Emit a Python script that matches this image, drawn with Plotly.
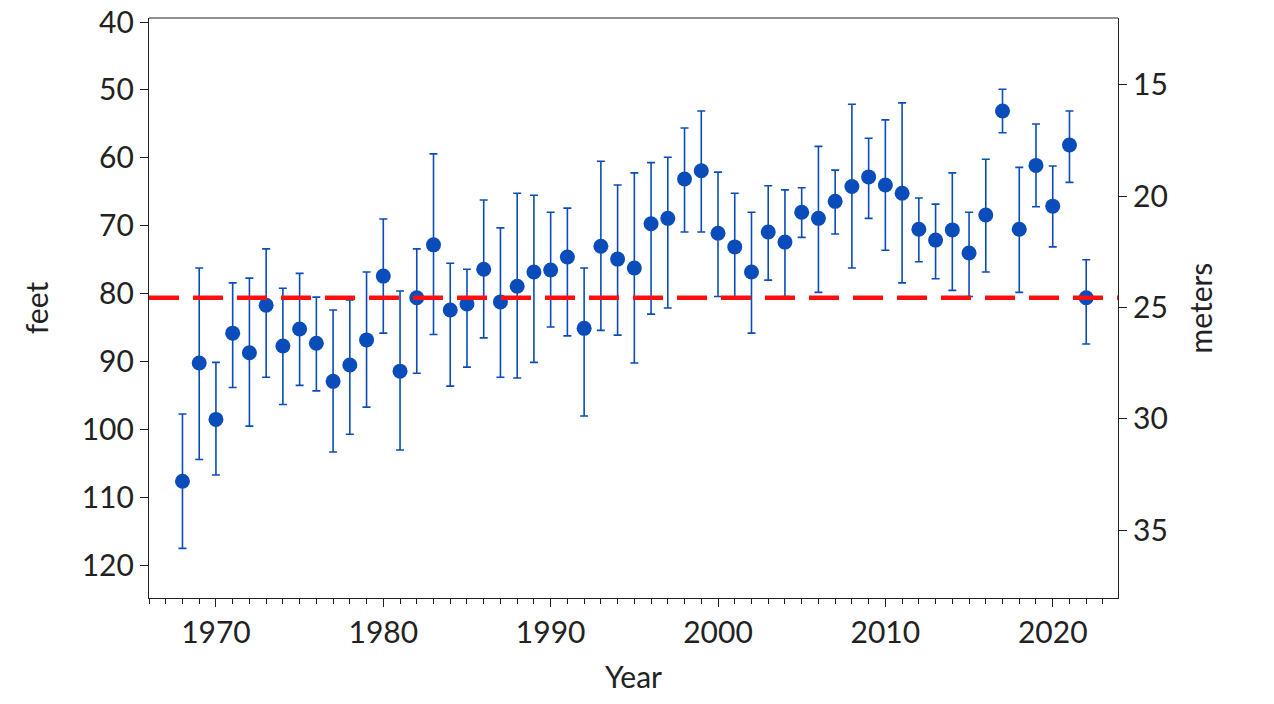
import plotly.graph_objects as go

years = list(range(1968, 2023))
depth_ft = [107.6, 90.2, 98.5, 85.8, 88.7, 81.7, 87.7, 85.2, 87.3, 92.9,
            90.5, 86.8, 77.4, 91.4, 80.6, 72.8, 82.4, 81.5, 76.4, 81.2,
            78.9, 76.8, 76.5, 74.6, 85.1, 73.0, 74.9, 76.2, 69.7, 68.9,
            63.1, 61.9, 71.1, 73.1, 76.8, 70.9, 72.4, 68.0, 68.9, 66.4,
            64.2, 62.8, 64.0, 65.2, 70.5, 72.1, 70.6, 74.0, 68.4, 53.1,
            70.5, 61.1, 67.1, 58.1, 80.6]
upper_ft = [97.7, 76.2, 90.1, 78.4, 77.7, 73.4, 79.2, 77.0, 80.5, 82.4,
            80.9, 76.8, 69.0, 79.6, 73.4, 59.4, 75.5, 76.4, 66.2, 70.3,
            65.2, 65.5, 68.0, 67.4, 76.2, 60.5, 64.0, 62.2, 60.7, 59.9,
            55.6, 53.1, 62.1, 65.2, 68.0, 64.1, 64.7, 64.4, 58.3, 61.8,
            52.1, 57.1, 54.4, 51.9, 65.9, 66.8, 62.2, 68.0, 60.2, 49.9,
            61.4, 55.0, 61.2, 53.1, 75.0]
lower_ft = [117.5, 104.4, 106.7, 93.8, 99.5, 92.3, 96.3, 93.5, 94.3, 103.3,
            100.7, 96.7, 85.8, 103.0, 91.7, 86.0, 93.6, 90.8, 86.5, 92.3,
            92.4, 90.1, 84.9, 86.2, 98.0, 85.4, 86.1, 90.2, 83.0, 82.1,
            70.9, 70.9, 80.4, 80.5, 85.8, 78.0, 80.4, 71.7, 79.8, 71.2,
            76.2, 68.9, 73.6, 78.4, 75.3, 77.8, 79.5, 80.4, 76.8, 56.3,
            79.8, 67.2, 73.1, 63.6, 87.4]
mean_ft = 80.6

blue = "#0A4DBA"
font = dict(family="Lato, Open Sans, sans-serif", size=30, color="#222")

err_plus = [lo - d for lo, d in zip(lower_ft, depth_ft)]
err_minus = [d - up for up, d in zip(upper_ft, depth_ft)]

fig = go.Figure()
fig.add_trace(go.Scatter(
    x=years, y=depth_ft, mode="markers",
    marker=dict(color=blue, size=15),
    error_y=dict(type="data", array=err_plus, arrayminus=err_minus,
                 color=blue, thickness=1.6, width=4),
    showlegend=False))
fig.add_trace(go.Scatter(
    x=[1966, 2023.9], y=[mean_ft, mean_ft], mode="lines",
    line=dict(color="#FF1010", width=4.5, dash="30px,14px"),
    showlegend=False))
fig.add_trace(go.Scatter(x=[2000], y=[20], yaxis="y2", mode="markers",
                         marker=dict(opacity=0), showlegend=False, hoverinfo="skip"))

rng = [124.8, 39.4]
axis_common = dict(showgrid=False, zeroline=False, showline=True, linecolor="#222",
                   linewidth=1.2, ticks="outside", ticklen=8, tickcolor="#222",
                   tickfont=font, automargin=False, ticklabeloverflow="allow")
fig.update_layout(
    width=1274, height=704, plot_bgcolor="white", paper_bgcolor="white",
    margin=dict(l=141, r=164, t=10, b=114), font=font,
    xaxis=dict(range=[1966, 2023.9], dtick=10, tick0=1970,
               minor=dict(dtick=1, ticks="outside", ticklen=5, tickcolor="#222"),
               title=dict(text="Year", font=font, standoff=18), **axis_common),
    yaxis=dict(range=rng, dtick=10, title=dict(text="feet", font=font, standoff=24),
               **axis_common),
    yaxis2=dict(range=[r * 0.3048 for r in rng], dtick=5, overlaying="y", side="right",
                title=dict(text="meters", font=font, standoff=24), **axis_common),
)
fig.add_shape(type="line", xref="paper", yref="paper", x0=0, x1=1, y0=1, y1=1,
              line=dict(color="#222", width=1.2))
fig.write_html("out.html")
